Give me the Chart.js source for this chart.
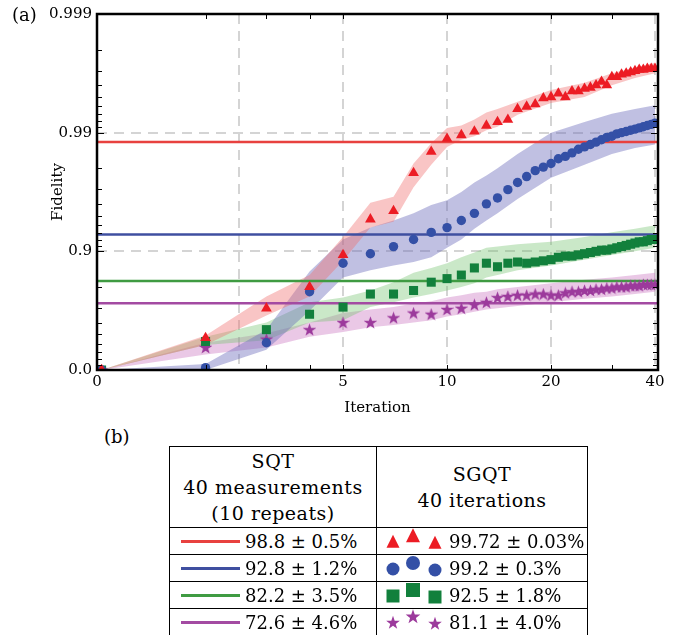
<!DOCTYPE html>
<html>
<head>
<meta charset="utf-8">
<script src="https://cdn.jsdelivr.net/npm/chart.js@4"></script>
<style>
body { margin: 0; background: #fff; font-family: "DejaVu Serif", serif; }
#wrap { position: relative; width: 684px; height: 635px; overflow: hidden; }
#fidelityChart { position: absolute; left: 0; top: 0; }
.panel { position: absolute; font-size: 18px; color: #000; }
#summary { position: absolute; left: 169px; top: 446px; border-collapse: collapse; font-size: 18px; }
#summary td { border: 1.3px solid #000; padding: 0; }
#summary td.head { text-align: center; line-height: 26px; font-size: 19px; letter-spacing: 0.5px; }
#summary td.row { height: 26px; }
.cell { display: flex; align-items: center; white-space: nowrap; }
.cell canvas { display: block; }
</style>
</head>
<body>
<div id="wrap">
  <canvas id="fidelityChart" width="684" height="425"></canvas>
  <div class="panel" style="left:12px;top:4px;">(a)</div>
  <div class="panel" style="left:104px;top:426px;">(b)</div>
  <table id="summary"></table>
</div>
<script>
// y values are "nines": -log10(1 - fidelity)
var iterations = [1, 2, 3, 4, 5, 6, 7, 8, 9, 10, 11, 12, 13, 14, 15, 16, 17, 18, 19, 20,
                  21, 22, 23, 24, 25, 26, 27, 28, 29, 30, 31, 32, 33, 34, 35, 36, 37, 38, 39, 40];

var redNines = [0, 0.27, 0.52, 0.70, 0.97, 1.27, 1.34, 1.66, 1.84, 1.95, 1.98, 2.01, 2.06, 2.09, 2.11, 2.20, 2.22, 2.24, 2.29, 2.30,
                2.33, 2.30, 2.35, 2.35, 2.37, 2.38, 2.40, 2.43, 2.40, 2.47, 2.47, 2.49, 2.50, 2.51, 2.52, 2.53, 2.53, 2.54, 2.54, 2.54];
var blueNines = [0, 0.02, 0.23, 0.66, 0.90, 0.98, 1.04, 1.10, 1.16, 1.20, 1.26, 1.32, 1.40, 1.45, 1.52, 1.58, 1.63, 1.68, 1.71, 1.74,
                 1.78, 1.80, 1.83, 1.86, 1.88, 1.90, 1.92, 1.94, 1.96, 1.97, 1.99, 2.00, 2.01, 2.02, 2.03, 2.04, 2.05, 2.06, 2.07, 2.08];
var greenNines = [0, 0.24, 0.34, 0.47, 0.53, 0.64, 0.64, 0.67, 0.74, 0.77, 0.80, 0.86, 0.90, 0.87, 0.90, 0.91, 0.90, 0.91, 0.92, 0.93,
                  0.95, 0.96, 0.96, 0.97, 0.98, 0.99, 1.00, 1.01, 1.01, 1.02, 1.03, 1.04, 1.05, 1.06, 1.07, 1.08, 1.08, 1.09, 1.10, 1.10];
var purpleNines = [0, 0.19, 0.26, 0.34, 0.40, 0.40, 0.44, 0.48, 0.47, 0.51, 0.52, 0.55, 0.57, 0.61, 0.62, 0.63, 0.63, 0.64, 0.64, 0.63,
                   0.63, 0.65, 0.66, 0.66, 0.67, 0.67, 0.68, 0.68, 0.69, 0.69, 0.70, 0.70, 0.70, 0.71, 0.71, 0.71, 0.72, 0.72, 0.72, 0.72];

// shaded spread around each SGQT series
var bandIter = [1, 2, 3, 4, 5, 6, 7, 8, 9, 10, 11, 12, 13, 14, 16, 20, 25, 30, 35, 40];
var redUpper = [0, 0.29, 0.62, 0.80, 1.12, 1.41, 1.46, 1.74, 1.91, 2.04, 2.06, 2.11, 2.17, 2.20, 2.26, 2.36, 2.42, 2.50, 2.55, 2.59];
var redLower = [0, 0.21, 0.46, 0.62, 0.92, 1.20, 1.25, 1.54, 1.73, 1.88, 1.94, 1.97, 2.02, 2.05, 2.15, 2.25, 2.30, 2.40, 2.46, 2.50];
var blueUpper = [0, 0.05, 0.34, 0.83, 1.10, 1.20, 1.26, 1.32, 1.39, 1.43, 1.50, 1.58, 1.64, 1.70, 1.82, 2.00, 2.09, 2.16, 2.20, 2.23];
var blueLower = [0, 0.00, 0.17, 0.50, 0.78, 0.84, 0.88, 0.91, 0.95, 1.03, 1.10, 1.19, 1.26, 1.32, 1.44, 1.62, 1.73, 1.82, 1.87, 1.90];
var greenUpper = [0, 0.28, 0.40, 0.57, 0.61, 0.67, 0.74, 0.82, 0.86, 0.90, 0.95, 0.99, 1.03, 1.04, 1.06, 1.08, 1.12, 1.16, 1.19, 1.22];
var greenLower = [0, 0.21, 0.25, 0.40, 0.42, 0.53, 0.57, 0.61, 0.64, 0.67, 0.70, 0.73, 0.78, 0.80, 0.84, 0.88, 0.93, 0.97, 1.00, 1.03];
var purpleUpper = [0, 0.23, 0.31, 0.40, 0.48, 0.51, 0.53, 0.56, 0.58, 0.61, 0.63, 0.65, 0.66, 0.68, 0.70, 0.73, 0.76, 0.78, 0.80, 0.82];
var purpleLower = [0, 0.13, 0.19, 0.28, 0.32, 0.36, 0.38, 0.40, 0.42, 0.45, 0.47, 0.49, 0.51, 0.52, 0.54, 0.57, 0.60, 0.62, 0.64, 0.66];

// table (b)
var sqtFidelity = [98.8, 92.8, 82.2, 72.6];
var sqtError = ["0.5", "1.2", "3.5", "4.6"];
var sgqtFidelity = ["99.72", "99.2", "92.5", "81.1"];
var sgqtError = ["0.03", "0.3", "1.8", "4.0"];

var xMin = 0.97;
var xMax = 40.8;
var xGrid = [xMin, 2.5, 5, 10, 20, 40];
var xTickText = ["0", "", "5", "10", "20", "40"];
var xMinor = [2, 3, 4, 30];
var yTicks = [0, 1, 2, 3];
var yTickText = ["0.0", "0.9", "0.99", "0.999"];

var lineColors = ["#e8413f", "#3f4fa0", "#3f9b42", "#a34ba2"];
var markColors = ["#ec1c24", "#3450a6", "#12803c", "#9c3a9c"];
var bandColors = ["rgba(240, 110, 110, 0.40)", "rgba(105, 105, 185, 0.42)",
                  "rgba(115, 195, 110, 0.38)", "rgba(200, 110, 190, 0.38)"];
var markStyles = ["triangle", "circle", "rect", "star"];

function nines(percent) {
    return -Math.log10(1 - percent / 100);
}

function shapePath(ctx, style, cx, cy, s) {
    ctx.beginPath();
    if (style == "triangle") {
        ctx.moveTo(cx, cy - s * 0.55);
        ctx.lineTo(cx + s * 0.5, cy + s * 0.45);
        ctx.lineTo(cx - s * 0.5, cy + s * 0.45);
    } else if (style == "circle") {
        ctx.arc(cx, cy, s / 2, 0, Math.PI * 2);
    } else if (style == "rect") {
        ctx.rect(cx - s / 2, cy - s / 2, s, s);
    } else {
        for (let i = 0; i < 10; i++) {
            let rad = i % 2 ? s * 0.22 : s * 0.55;
            let a = -Math.PI / 2 + i * Math.PI / 5;
            ctx.lineTo(cx + rad * Math.cos(a), cy + rad * Math.sin(a));
        }
    }
    ctx.closePath();
}

function starImage(color) {
    let c = document.createElement("canvas");
    c.width = 13;
    c.height = 13;
    let g = c.getContext("2d");
    g.fillStyle = color;
    shapePath(g, "star", 6.5, 7, 12.5);
    g.fill();
    return c;
}

function pts(xs, ys) {
    return xs.map((x, i) => ({ x: x, y: ys[i] }));
}

var series = [redNines, blueNines, greenNines, purpleNines];
var uppers = [redUpper, blueUpper, greenUpper, purpleUpper];
var lowers = [redLower, blueLower, greenLower, purpleLower];

var datasets = [];
for (let k = 0; k < 4; k++) {
    let lowerIndex = datasets.length + 1;
    datasets.push({
        data: pts(bandIter, uppers[k]),
        fill: lowerIndex,
        backgroundColor: bandColors[k],
        borderWidth: 0,
        pointRadius: 0,
        order: 3,
    });
    datasets.push({
        data: pts(bandIter, lowers[k]),
        fill: false,
        borderWidth: 0,
        pointRadius: 0,
        order: 3,
    });
}
for (let k = 0; k < 4; k++) {
    let level = nines(sqtFidelity[k]);
    datasets.push({
        data: [{ x: xMin, y: level }, { x: xMax, y: level }],
        borderColor: lineColors[k],
        borderWidth: 2.5,
        pointRadius: 0,
        fill: false,
        order: 2,
    });
}
var markRadius = [6.2, 4.7, 6.4, 6];
for (let k = 0; k < 4; k++) {
    datasets.push({
        data: pts(iterations, series[k]),
        showLine: false,
        pointStyle: markStyles[k] == "star" ? starImage(markColors[k]) : markStyles[k],
        pointRadius: markRadius[k],
        backgroundColor: markColors[k],
        borderWidth: 0,
        fill: false,
        order: 1,
    });
}

var frame = {
    id: "frame",
    afterDatasetsDraw: function(chart) {
        const ctx = chart.ctx;
        const a = chart.chartArea;
        const x = chart.scales.x;
        const y = chart.scales.y;
        ctx.save();
        ctx.strokeStyle = "#000";
        ctx.lineWidth = 1;
        ctx.beginPath();
        let xt = xMinor.concat([5, 10, 20]);
        xt.forEach(v => {
            let px = Math.round(x.getPixelForValue(v)) + 0.5;
            ctx.moveTo(px, a.bottom); ctx.lineTo(px, a.bottom - 5);
            ctx.moveTo(px, a.top); ctx.lineTo(px, a.top + 5);
        });
        for (let d = 0; d < 3; d++) {
            for (let m = 1; m <= 9; m++) {
                let v = d + 1 - Math.log10(m);
                let py = Math.round(y.getPixelForValue(v)) + 0.5;
                let len = m == 1 ? 7 : 5;
                ctx.moveTo(a.left, py); ctx.lineTo(a.left + len, py);
                ctx.moveTo(a.right, py); ctx.lineTo(a.right - len, py);
            }
        }
        ctx.stroke();
        ctx.lineWidth = 2.5;
        ctx.strokeRect(a.left, a.top, a.right - a.left, a.bottom - a.top);
        ctx.restore();
    },
};

var tickFont = { family: "'DejaVu Serif', serif", size: 15 };

var chart = new Chart(document.getElementById("fidelityChart"), {
    type: "line",
    data: { datasets: datasets },
    plugins: [frame],
    options: {
        responsive: false,
        animation: false,
        layout: { padding: { top: 14, right: 26, left: 0, bottom: 0 } },
        plugins: {
            legend: { display: false },
            tooltip: { enabled: false },
            filler: { drawTime: "beforeDatasetsDraw" },
        },
        scales: {
            x: {
                type: "logarithmic",
                min: xMin,
                max: xMax,
                afterBuildTicks: function(scale) {
                    scale.ticks = xGrid.map(v => ({ value: v }));
                },
                afterFit: function(scale) { scale.height = 55; },
                ticks: {
                    autoSkip: false,
                    maxRotation: 0,
                    padding: 3,
                    color: "#000",
                    font: tickFont,
                    callback: function(value, index) { return xTickText[index]; },
                },
                grid: {
                    drawTicks: false,
                    lineWidth: 2,
                    borderDash: [10, 7],
                    color: function(c) {
                        return c.tick && c.tick.value == xMin ? "rgba(0,0,0,0)" : "#d4d4d4";
                    },
                },
                border: { display: false, dash: [10, 7] },
                title: {
                    display: true,
                    text: "Iteration",
                    color: "#000",
                    font: tickFont,
                    padding: { top: 0, bottom: 8 },
                },
            },
            y: {
                type: "linear",
                min: 0,
                max: 3,
                afterBuildTicks: function(scale) {
                    scale.ticks = yTicks.map(v => ({ value: v }));
                },
                afterFit: function(scale) { scale.width = 97; },
                ticks: {
                    padding: 5,
                    color: "#000",
                    font: tickFont,
                    callback: function(value, index) { return yTickText[index]; },
                },
                grid: {
                    drawTicks: false,
                    lineWidth: 2,
                    borderDash: [10, 7],
                    color: function(c) {
                        return c.tick && (c.tick.value == 1 || c.tick.value == 2) ? "#d4d4d4" : "rgba(0,0,0,0)";
                    },
                },
                border: { display: false, dash: [10, 7] },
                title: {
                    display: true,
                    text: "Fidelity",
                    color: "#000",
                    font: tickFont,
                    padding: { top: 49, bottom: 0 },
                },
            },
        },
    },
});

// table (b)
var table = document.getElementById("summary");
var head = table.insertRow();
var h1 = head.insertCell();
h1.className = "head";
h1.style.width = "206px";
h1.style.height = "80px";
h1.innerHTML = "SQT<br>40 measurements<br>(10 repeats)";
var h2 = head.insertCell();
h2.className = "head";
h2.style.width = "210px";
h2.innerHTML = "SGQT<br>40 iterations";

for (let k = 0; k < 4; k++) {
    let row = table.insertRow();
    let c1 = row.insertCell();
    c1.className = "row";
    let d1 = document.createElement("div");
    d1.className = "cell";
    d1.style.paddingLeft = "11px";
    let bar = document.createElement("span");
    bar.style.cssText = "display:inline-block;width:59px;height:3px;margin-right:5px;background:" + lineColors[k];
    d1.appendChild(bar);
    d1.appendChild(document.createTextNode(sqtFidelity[k].toFixed(1) + " \u00b1 " + sqtError[k] + "%"));
    c1.appendChild(d1);

    let c2 = row.insertCell();
    c2.className = "row";
    let d2 = document.createElement("div");
    d2.className = "cell";
    d2.style.paddingLeft = "8px";
    let cv = document.createElement("canvas");
    cv.width = 60;
    cv.height = 26;
    cv.style.marginRight = "4px";
    let g = cv.getContext("2d");
    g.fillStyle = markColors[k];
    [[8, 14, 13], [28, 8, 14], [50, 15, 13]].forEach(p => {
        shapePath(g, markStyles[k], p[0], p[1], p[2]);
        g.fill();
    });
    d2.appendChild(cv);
    d2.appendChild(document.createTextNode(sgqtFidelity[k] + " \u00b1 " + sgqtError[k] + "%"));
    c2.appendChild(d2);
}
</script>
</body>
</html>
